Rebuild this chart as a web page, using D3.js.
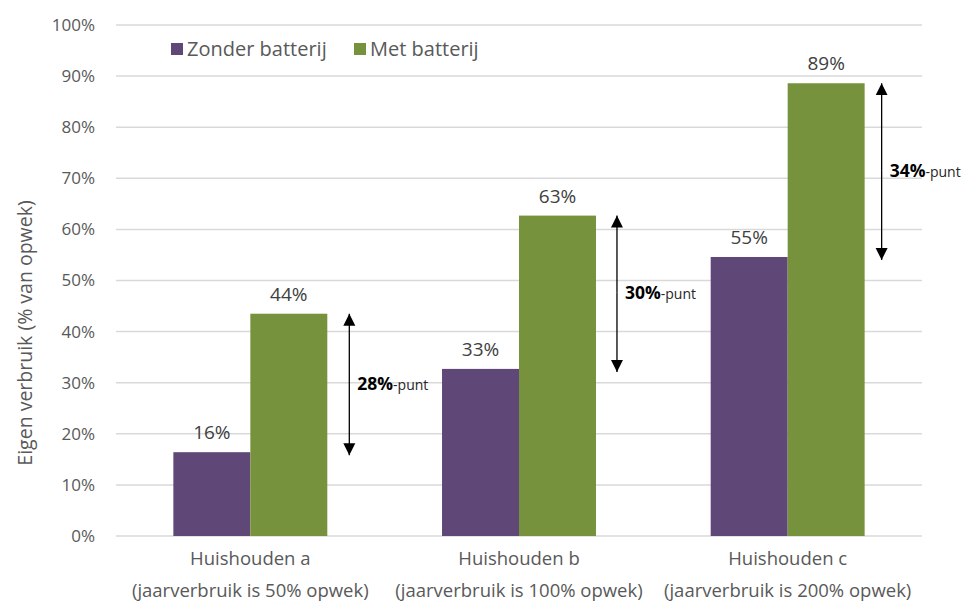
<!DOCTYPE html>
<html>
<head>
<meta charset="utf-8">
<script src="https://cdn.jsdelivr.net/npm/d3@7"></script>
<style>
  body { margin: 0; background: #fff; }
  svg text { font-family: "Open Sans", sans-serif; }
</style>
</head>
<body>
<div id="chart"></div>
<script>
// Data
const categories = ["Huishouden a", "Huishouden b", "Huishouden c"];
const subLabels = ["(jaarverbruik is 50% opwek)", "(jaarverbruik is 100% opwek)", "(jaarverbruik is 200% opwek)"];
const seriesNames = ["Zonder batterij", "Met batterij"];
const zonder = [16.4, 32.7, 54.6];
const met = [43.5, 62.7, 88.6];
const zonderLabels = ["16%", "33%", "55%"];
const metLabels = ["44%", "63%", "89%"];
const diffLabels = ["28%", "30%", "34%"];
const yTicks = [0, 10, 20, 30, 40, 50, 60, 70, 80, 90, 100];

const colors = ["#5f4778", "#76923c"];

const W = 970, H = 604;
const margin = { top: 25, right: 48, bottom: 68, left: 116 };
const width = W - margin.left - margin.right;
const height = H - margin.top - margin.bottom;

const svg = d3.select("#chart")
    .append("svg")
    .attr("width", W)
    .attr("height", H);

const g = svg.append("g")
    .attr("transform", `translate(${margin.left},${margin.top})`);

const x = d3.scaleBand()
    .domain(categories)
    .range([0, width])
    .paddingInner(0.427)
    .paddingOuter(0.2135);

const x1 = d3.scaleBand()
    .domain(seriesNames)
    .range([0, x.bandwidth()]);

const y = d3.scaleLinear()
    .domain([0, 100])
    .range([height, 0]);

// gridlines
g.append("g")
    .selectAll("line")
    .data(yTicks)
    .enter()
    .append("line")
    .attr("x1", 0)
    .attr("x2", width)
    .attr("y1", d => y(d))
    .attr("y2", d => y(d))
    .attr("stroke", "#d9d9d9")
    .attr("stroke-width", 1.5);

// y axis labels
const yAxis = g.append("g")
    .call(d3.axisLeft(y).tickValues(yTicks).tickFormat(d => d + "%").tickSize(0).tickPadding(21));
yAxis.select(".domain").remove();
yAxis.selectAll("text")
    .style("font-size", "17px")
    .style("font-family", "Open Sans, sans-serif")
    .attr("fill", "#595959");

// y axis title
svg.append("text")
    .attr("transform", "rotate(-90)")
    .attr("x", -333)
    .attr("y", 32)
    .attr("text-anchor", "middle")
    .style("font-size", "19.5px")
    .attr("fill", "#595959")
    .text("Eigen verbruik (% van opwek)");

// bars
const rows = categories.map((c, i) => ({ cat: c, i: i, vals: [zonder[i], met[i]], labels: [zonderLabels[i], metLabels[i]] }));

const groups = g.selectAll(".grp")
    .data(rows)
    .enter()
    .append("g")
    .attr("class", "grp")
    .attr("transform", d => `translate(${x(d.cat)},0)`);

groups.selectAll("rect")
    .data(d => d.vals.map((v, k) => ({ v: v, k: k, label: d.labels[k] })))
    .enter()
    .append("rect")
    .attr("x", d => x1(seriesNames[d.k]))
    .attr("width", x1.bandwidth())
    .attr("y", d => y(d.v))
    .attr("height", d => y(0) - y(d.v))
    .attr("fill", d => colors[d.k]);

groups.selectAll(".val")
    .data(d => d.vals.map((v, k) => ({ v: v, k: k, label: d.labels[k] })))
    .enter()
    .append("text")
    .attr("class", "val")
    .attr("x", d => x1(seriesNames[d.k]) + x1.bandwidth() / 2)
    .attr("y", d => y(d.v) - 13)
    .attr("text-anchor", "middle")
    .style("font-size", "19px")
    .attr("fill", "#404040")
    .text(d => d.label);

// category labels
const catLabels = g.append("g");
rows.forEach(d => {
    const cx = x(d.cat) + x.bandwidth() / 2;
    catLabels.append("text")
        .attr("x", cx)
        .attr("y", height + 29)
        .attr("text-anchor", "middle")
        .style("font-size", "18.5px")
        .attr("fill", "#595959")
        .text(d.cat);
    catLabels.append("text")
        .attr("x", cx)
        .attr("y", height + 61)
        .attr("text-anchor", "middle")
        .style("font-size", "18.5px")
        .attr("fill", "#595959")
        .text(subLabels[d.i]);
});

// difference arrows
const defs = svg.append("defs");
defs.append("marker")
    .attr("id", "head")
    .attr("viewBox", "0 0 10 10")
    .attr("refX", 10)
    .attr("refY", 5)
    .attr("markerWidth", 12)
    .attr("markerHeight", 14)
    .attr("markerUnits", "userSpaceOnUse")
    .attr("orient", "auto")
    .append("path")
    .attr("d", "M0,0 L10,5 L0,10 z")
    .attr("fill", "#000");

const arrowGap = [22, 21, 17];
rows.forEach(d => {
    const ax = x(d.cat) + x.bandwidth() + arrowGap[d.i];
    const mid = (y(met[d.i]) + y(zonder[d.i])) / 2;
    g.append("line")
        .attr("x1", ax)
        .attr("x2", ax)
        .attr("y1", mid)
        .attr("y2", y(met[d.i]))
        .attr("stroke", "#000")
        .attr("stroke-width", 1.3)
        .attr("marker-end", "url(#head)");
    g.append("line")
        .attr("x1", ax)
        .attr("x2", ax)
        .attr("y1", mid)
        .attr("y2", y(zonder[d.i]) + 3)
        .attr("stroke", "#000")
        .attr("stroke-width", 1.3)
        .attr("marker-end", "url(#head)");
    const t = g.append("text")
        .attr("x", ax + 8)
        .attr("y", mid + 7)
        .attr("fill", "#000");
    t.append("tspan")
        .style("font-size", "17.5px")
        .style("font-weight", "bold")
        .text(diffLabels[d.i]);
    t.append("tspan")
        .style("font-size", "14px")
        .attr("fill", "#262626")
        .text("-punt");
});

// legend
const legend = svg.append("g")
    .attr("transform", "translate(171,49)");
const legendX = [0, 183];
seriesNames.forEach((s, k) => {
    legend.append("rect")
        .attr("x", legendX[k])
        .attr("y", -6)
        .attr("width", 12)
        .attr("height", 12)
        .attr("fill", colors[k]);
    legend.append("text")
        .attr("x", legendX[k] + 16)
        .attr("y", 7)
        .style("font-size", "20px")
        .attr("fill", "#595959")
        .text(s);
});
</script>
</body>
</html>
